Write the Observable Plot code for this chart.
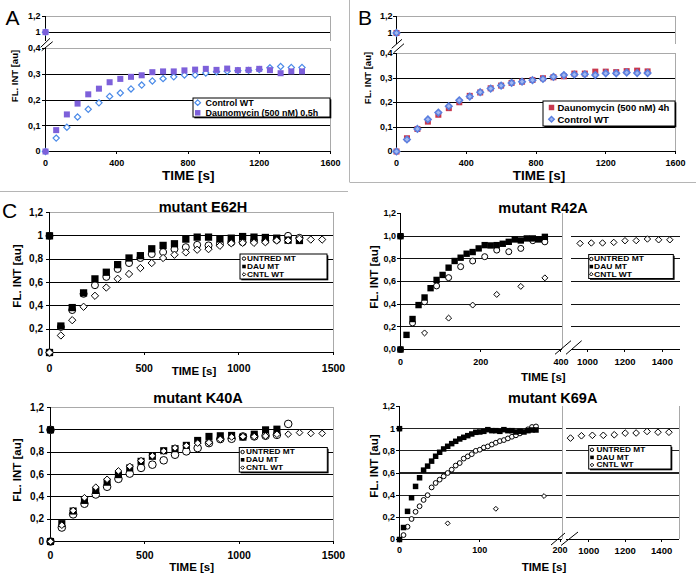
<!DOCTYPE html>
<html><head><meta charset="utf-8">
<script src="https://cdn.jsdelivr.net/npm/d3@7"></script>
<script src="https://cdn.jsdelivr.net/npm/@observablehq/plot@0.6"></script>
<style>
html,body{margin:0;padding:0;background:#fff}
#root{position:relative;width:696px;height:583px;overflow:hidden;background:#fff}
#root svg{position:absolute}
</style></head><body><div id="root"></div>
<script>
// ---------------- DATA ----------------
const tPre60 = [0,0,60,120,180,240,300,360,420,480,540,600,660,720,780,840,900,960,1020,1080,1140,1200,1260,1320,1380,1440];
const t60 = [0,60,120,180,240,300,360,420,480,540,600,660,720,780,840,900,960,1020,1080,1140,1200,1260,1320,1380,1440];
const tPre15 = [0,0,15,30,45,60,75,90,105,120,135,150,165,180,195,210,225,240,255,270,285,300,315,330,345,360];
const tPre30 = [0,0,30,60,90,120,150,180,210,240,270,300,330,360];
const tPre5 = [0,0,5,10,15,20,25,30,35,40,45,50,55,60,65,70,75,80,85,90,95,100,105,110,115,120,125,130,135,140,145,150,155,160,165,170];

// Panel A
const aControlWT = [1,0,0.052,0.094,0.134,0.164,0.189,0.214,0.227,0.243,0.258,0.274,0.283,0.290,0.297,0.297,0.305,0.310,0.312,0.314,0.315,0.318,0.325,0.330,0.326,0.326];
const aDauno05h = [1,0,0.083,0.144,0.186,0.222,0.244,0.269,0.282,0.290,0.296,0.308,0.311,0.311,0.315,0.318,0.321,0.317,0.322,0.316,0.317,0.321,0.316,0.304,0.311,0.311];
// Panel B
const bDauno4h = [1,0,0.054,0.092,0.122,0.150,0.177,0.201,0.227,0.241,0.258,0.269,0.280,0.285,0.292,0.299,0.303,0.307,0.318,0.318,0.326,0.326,0.324,0.328,0.330,0.327];
const bControlWT = [1,0,0.049,0.092,0.131,0.159,0.185,0.209,0.224,0.242,0.257,0.269,0.280,0.285,0.291,0.296,0.305,0.312,0.314,0.315,0.312,0.319,0.319,0.322,0.320,0.320];
// Panel C: control wild type (shared)
const cntlWT = [0,0.146,0.277,0.392,0.486,0.557,0.632,0.673,0.724,0.767,0.810,0.838,0.858,0.881,0.886,0.915,0.936,0.940,0.940,0.945,0.960,0.961,0.975,0.968,0.968];
// E62H
const e62Untred = [1,0,0.219,0.364,0.503,0.577,0.648,0.716,0.767,0.810,0.844,0.861,0.886,0.903,0.923,0.918,0.932,0.943,0.946,0.957,0.957,0.966,1.0,0.983];
const e62Dau = [1,0,0.227,0.385,0.511,0.631,0.688,0.753,0.810,0.830,0.889,0.918,0.932,0.972,0.989,0.989,0.974,0.980,0.994,0.989,0.986,0.980,0.963,0.960];
// K40A
const k40Untred = [1,0,0.125,0.243,0.338,0.421,0.490,0.561,0.608,0.659,0.688,0.727,0.777,0.807,0.837,0.881,0.917,0.920,0.941,0.941,0.947,0.955,1.053];
const k40Dau = [1,0,0.160,0.273,0.368,0.457,0.531,0.599,0.659,0.718,0.763,0.813,0.831,0.861,0.905,0.941,0.947,0.950,0.935,0.961,1.0,1.006];
// R42A
const r42Dau = [1,0,0.129,0.269,0.392,0.459,0.541,0.614,0.658,0.722,0.781,0.810,0.845,0.860,0.892,0.921,0.918,0.921,0.933,0.950,0.971,0.962,0.980,0.980,0.971,0.994];
const r42Untred = [1,0,0.234,0.421,0.561,0.634,0.731,0.781,0.819,0.877,0.863,0.892,0.96,0.950];
// K69A
const k69Dau = [1,0,0.108,0.254,0.377,0.479,0.557,0.626,0.662,0.707,0.751,0.787,0.817,0.841,0.865,0.886,0.907,0.922,0.937,0.952,0.967,0.970,0.976,0.991,0.982,0.982,0.976,0.991,0.982,0.982,0.970,0.976,0.970,0.982,0.988,0.988];
const k69Untred = [1,0,0.04,0.115,0.185,0.25,0.30,0.357,0.40,0.47,0.51,0.54,0.57,0.60,0.63,0.667,0.69,0.73,0.75,0.77,0.80,0.81,0.83,0.84,0.857,0.873,0.888,0.897,0.912,0.927,0.94,0.957,0.979,0.994,1.015,1.02];

// ticks & labels
const ticksABx = [0,400,800,1200,1600];
const ticksABTop = [1,1.2];
const ticksABBot = [0,0.1,0.2,0.3,0.4];
const gridABBot = [0.1,0.2,0.3];
const ticksCx = [0,500,1000,1500];
const ticksCy = [0,0.2,0.4,0.6,0.8,1,1.2];
const gridC = [0.2,0.4,0.6,0.8,1];
const ticksR42x = [0,200,400];
const ticksK69x = [0,100,200];
const ticksRightX = [1000,1200,1400];
const legendA = ["Control WT","Daunomycin (500 nM) 0,5h"];
const legendB = ["Daunomycin (500 nM) 4h","Control WT"];
const legendC = ["UNTRED MT","DAU MT","CNTL WT"];
const titlesC = ["mutant E62H","mutant R42A","mutant K40A","mutant K69A"];
const panelLetters = ["A","B","C"];
const xTitle = "TIME [s]";
const yTitle = "FL. INT [au]";

// ---------------- HELPERS ----------------
const FONT = "'Liberation Sans', Arial, sans-serif";
const root = document.getElementById("root");
const rows = (ts, vs) => vs.map((v, i) => ({t: ts[i], v}));
const plain = d => String(d);
const comma = d => String(d).replace(".", ",");
const comma1 = d => d3.format(".1f")(d).replace(".", ",");
const GRAY = "#a9a9a9";
const R = Math.round;
const crisp = {shapeRendering: "crispEdges"};

function part(o) {
  const mL = 45, mR = 15, mT = 15, mB = 35;
  const x0 = R(o.x0), x1 = R(o.x1), y0 = R(o.y0), y1 = R(o.y1);
  const w = x1 - x0, h = y1 - y0;
  const svg = Plot.plot({
    width: w + mL + mR, height: h + mT + mB,
    marginLeft: mL, marginRight: mR, marginTop: mT, marginBottom: mB,
    x: {domain: o.xd, axis: o.xAxis ? undefined : null},
    y: {domain: o.yd, axis: o.yAxis ? undefined : null},
    style: {fontFamily: FONT, fontSize: o.fs + "px", fontWeight: "bold", color: "#000", background: "none", overflow: "visible"},
    marks: [
      ...(o.grid ? [Plot.ruleY(o.grid, {stroke: o.gridColor || "#000", strokeWidth: o.gridWidth || 1, ...crisp})] : []),
      ...(o.grayTop ? [Plot.ruleY([o.yd[1]], {stroke: GRAY, ...crisp})] : []),
      ...(o.grayRight ? [Plot.ruleX([o.xd[1]], {stroke: GRAY, ...crisp})] : []),
      ...(o.axisLeft ? [Plot.ruleX([o.xd[0]], {stroke: "#000", ...crisp})] : []),
      ...(o.axisBottom ? [Plot.ruleY([o.yd[0]], {stroke: "#000", ...crisp})] : []),
      ...(o.xAxis ? [Plot.axisX(o.xAxis.ticks, {tickFormat: o.xAxis.format || plain, tickSize: 3, tickPadding: o.xAxis.pad, label: null, fontSize: o.xAxis.fs || o.fs, ...crisp})] : []),
      ...(o.yAxis ? [Plot.axisY(o.yAxis.ticks, {tickFormat: o.yAxis.format, tickSize: 3, tickPadding: o.yAxis.pad, label: null, fontSize: o.yAxis.fs || o.fs, ...crisp})] : []),
      ...o.marks
    ]
  });
  svg.style.left = (x0 - mL) + "px";
  svg.style.top = (y0 - mT) + "px";
  root.appendChild(svg);
}
const dots = (data, s) => Plot.dot(data, {x: "t", y: "v", ...s});

// styles
const sActrl = {symbol: "diamond2", r: 2.8, stroke: "#4a8ae8", strokeWidth: 1.2, fill: "#fff"};
const sAdau = {symbol: "square", r: 3.4, fill: "#7d60da"};
const sBdau = {symbol: "square", r: 3.4, fill: "#c8384e"};
const sBctrl = {symbol: "diamond2", r: 2.9, stroke: "#5a7fe0", strokeWidth: 1.6, fill: "#a4b8f0"};
const sU = {symbol: "circle", r: 3.5, stroke: "#000", strokeWidth: 1, fill: "#fff"};
const sD = {symbol: "square", r: 4.1, fill: "#000"};
const sC = {symbol: "diamond2", r: 3.3, stroke: "#000", strokeWidth: 1, fill: "#fff"};

// ---------------- PANEL A ----------------
const A_ctrl = rows(tPre60, aControlWT), A_dau = rows(tPre60, aDauno05h);
part({x0: 45, x1: 330, y0: 16, y1: 41, xd: [0, 1600], yd: [0.88, 1.2], fs: 9,
  grid: [1], grayTop: true, grayRight: true, axisLeft: true,
  yAxis: {ticks: ticksABTop, format: comma, pad: 2},
  marks: [dots(A_ctrl.filter(d => d.v > 0.5), sActrl), dots(A_dau.filter(d => d.v > 0.5), sAdau)]});
part({x0: 45, x1: 330, y0: 48.3, y1: 151, xd: [0, 1600], yd: [0, 0.4], fs: 9,
  grid: gridABBot, grayTop: true, grayRight: true, axisLeft: true, axisBottom: true,
  xAxis: {ticks: ticksABx, pad: 5}, yAxis: {ticks: ticksABBot, format: comma, pad: 2},
  marks: [dots(A_ctrl.filter(d => d.v < 0.5), sActrl), dots(A_dau.filter(d => d.v < 0.5), sAdau)]});

// ---------------- PANEL B ----------------
const B_dau = rows(tPre60, bDauno4h), B_ctrl = rows(tPre60, bControlWT);
part({x0: 396, x1: 675, y0: 16, y1: 44, xd: [0, 1600], yd: [0.86, 1.2], fs: 9,
  grid: [1], grayTop: true, grayRight: true, axisLeft: true,
  yAxis: {ticks: ticksABTop, format: comma, pad: 1},
  marks: [dots(B_dau.filter(d => d.v > 0.5), sBdau), dots(B_ctrl.filter(d => d.v > 0.5), sBctrl)]});
part({x0: 396, x1: 675, y0: 52.7, y1: 151, xd: [0, 1600], yd: [0, 0.4], fs: 9,
  grid: gridABBot, grayTop: true, grayRight: true, axisLeft: true, axisBottom: true,
  xAxis: {ticks: ticksABx, pad: 5.5}, yAxis: {ticks: ticksABBot, format: comma, pad: 1},
  marks: [dots(B_dau.filter(d => d.v < 0.5), sBdau), dots(B_ctrl.filter(d => d.v < 0.5), sBctrl)]});

// ---------------- PANEL C ----------------
const cntl = rows(t60, cntlWT);
// E62H
part({x0: 49, x1: 333.3, y0: 211.7, y1: 351.7, xd: [0, 1500], yd: [0, 1.2], fs: 10,
  grid: gridC, grayTop: true, grayRight: true, axisLeft: true, axisBottom: true,
  xAxis: {ticks: ticksCx, pad: 9, fs: 10.5}, yAxis: {ticks: ticksCy, format: comma, pad: 3.5},
  marks: [dots(rows(tPre60, e62Untred), sU), dots(rows(tPre60, e62Dau), sD), dots(cntl, sC)]});
// K40A
part({x0: 50, x1: 333.3, y0: 406.7, y1: 540.7, xd: [0, 1500], yd: [0, 1.2], fs: 10,
  grid: gridC, grayTop: true, grayRight: true, axisLeft: true, axisBottom: true,
  xAxis: {ticks: ticksCx, pad: 7, fs: 10.5}, yAxis: {ticks: ticksCy, format: comma, pad: 3.5},
  marks: [dots(rows(tPre60, k40Untred), {...sU, r: 3.8}), dots(rows(tPre60, k40Dau), {...sD, r: 4}), dots(cntl, {...sC, r: 3})]});
// R42A left
part({x0: 400.3, x1: 562, xd: [0, 404], y0: 213.3, y1: 349, yd: [0, 1.2], fs: 9,
  grid: gridC, gridColor: "#111", gridWidth: 1.3, grayRight: true, axisLeft: true, axisBottom: true,
  xAxis: {ticks: ticksR42x, pad: 6}, yAxis: {ticks: ticksCy, format: comma1, pad: 1.5},
  marks: [dots(rows(tPre30, r42Untred), {...sU, r: 3}), dots(cntl.filter(d => d.t > 0 && d.t <= 404), {...sC, r: 2.7}), dots(rows(tPre15, r42Dau), {...sD, r: 3.6})]});
// R42A right
part({x0: 570.7, x1: 680, xd: [914, 1497], y0: 213.3, y1: 349, yd: [0, 1.2], fs: 9.5,
  grid: gridC, gridColor: "#111", gridWidth: 1.3, axisBottom: true,
  xAxis: {ticks: ticksRightX, pad: 6},
  marks: [dots(cntl.filter(d => d.t >= 914), {...sC, r: 2.9, clip: true})]});
// K69A left
part({x0: 399.3, x1: 561.7, xd: [0, 203], y0: 405.7, y1: 538.7, yd: [0, 1.2], fs: 9,
  grid: gridC, gridColor: "#222", gridWidth: 1.3, grayRight: true, axisLeft: true, axisBottom: true,
  xAxis: {ticks: ticksK69x, pad: 4.5}, yAxis: {ticks: ticksCy, format: comma, pad: 1.5},
  marks: [dots(rows(tPre5, k69Untred), {...sU, r: 2.4}), dots(cntl.filter(d => d.t > 0 && d.t <= 203), {...sC, r: 2.2}), dots(rows(tPre5, k69Dau), {...sD, r: 3.1})]});
// K69A right
part({x0: 566, x1: 679.3, xd: [878, 1498], y0: 405.7, y1: 538.7, yd: [0, 1.2], fs: 9.5,
  grid: gridC, gridColor: "#222", gridWidth: 1.3, grayRight: true, axisBottom: true,
  xAxis: {ticks: ticksRightX, pad: 4.5},
  marks: [dots(cntl.filter(d => d.t >= 860), {...sC, r: 3, clip: true})]});

// ---------------- OVERLAY (labels, legends, breaks, borders) ----------------
const ov = d3.select(root).append("svg").attr("width", 696).attr("height", 583)
  .style("left", "0px").style("top", "0px").style("pointer-events", "none")
  .attr("font-family", FONT);

// panel borders
[[0, 191.5, 348, 191.5], [349.5, 0, 349.5, 182], [349.5, 182.5, 696, 182.5]].forEach(([a, b, c, d]) =>
  ov.append("line").attr("x1", a).attr("y1", b).attr("x2", c).attr("y2", d).attr("stroke", "#b5b5b5").attr("stroke-width", 1));

function txt(s, cx, cy, fs, opt = {}) {
  const t = ov.append("text").attr("font-size", fs).attr("font-weight", opt.normal ? "normal" : "bold")
    .attr("text-anchor", opt.anchor || "middle").attr("fill", "#000").text(s);
  if (opt.rotate) t.attr("transform", `translate(${cx},${cy}) rotate(-90)`).attr("x", 0).attr("y", 0.358 * fs);
  else if (opt.sx) t.attr("transform", `translate(${cx},${cy + 0.358 * fs}) scale(${opt.sx},1)`).attr("x", 0).attr("y", 0);
  else t.attr("x", cx).attr("y", cy + 0.358 * fs);
  return t;
}

// panel letters
txt(panelLetters[0], 12.5, 17.5, 21, {normal: true});
txt(panelLetters[1], 365, 17.5, 21, {normal: true});
txt(panelLetters[2], 9.5, 210.5, 21, {normal: true});

// titles
txt(titlesC[0], 203, 207, 14.5);
txt(titlesC[1], 543, 208, 14.5);
txt(titlesC[2], 198, 398, 14.5);
txt(titlesC[3], 552.7, 398, 14.5);

// x titles
txt(xTitle, 188.3, 175, 13.5);
txt(xTitle, 539, 175.5, 13.5);
txt(xTitle, 194, 371, 11.5);
txt(xTitle, 543.3, 377, 11.5);
txt(xTitle, 191.7, 567, 11.5);
txt(xTitle, 544, 567, 11.5);

// y titles
txt(yTitle, 15, 76, 9.5, {rotate: true});
txt(yTitle, 367.7, 78, 9.5, {rotate: true});
txt(yTitle, 17, 276, 11.5, {rotate: true});
txt(yTitle, 17, 470, 11.5, {rotate: true});
txt(yTitle, 374.3, 277, 11.5, {rotate: true});
txt(yTitle, 374.3, 466, 11.5, {rotate: true});

// break marks
function brk(pairs) {
  pairs.forEach(([a, b, c, d]) => ov.append("line").attr("x1", a).attr("y1", b).attr("x2", c).attr("y2", d).attr("stroke", "#000").attr("stroke-width", 1));
}
ov.append("rect").attr("x", 42).attr("y", 41.5).attr("width", 7).attr("height", 6.5).attr("fill", "#fff");
brk([[40.7, 47.3, 50, 38.3], [41.7, 50.7, 52.7, 41.7]]);
ov.append("rect").attr("x", 393).attr("y", 44.5).attr("width", 7).attr("height", 7.5).attr("fill", "#fff");
brk([[391.7, 48.3, 402, 39.3], [393.7, 52.7, 404, 43.7]]);
brk([[555, 354.3, 571, 340.7], [566, 354.3, 581.7, 340.7]]);
brk([[551, 545, 565, 533], [561, 545.5, 578, 532]]);

// legends
function symbolPath(kind, size) {
  const type = kind === "square" ? d3.symbolSquare : kind === "circle" ? d3.symbolCircle : d3.symbolDiamond2;
  return d3.symbol(type, size)();
}
function legend(box, items, opts) {
  ov.append("rect").attr("x", box[0] + 1.3).attr("y", box[1] + 1.3).attr("width", box[2] - box[0]).attr("height", box[3] - box[1]).attr("fill", "#000");
  ov.append("rect").attr("x", box[0]).attr("y", box[1]).attr("width", box[2] - box[0]).attr("height", box[3] - box[1]).attr("fill", "#fff").attr("stroke", "#000").attr("stroke-width", 1);
  items.forEach((it, i) => {
    const y = opts.rows[i];
    ov.append("path").attr("d", symbolPath(it.kind, it.size)).attr("transform", `translate(${opts.mx},${y})`)
      .attr("fill", it.fill).attr("stroke", it.stroke || "none").attr("stroke-width", it.sw || 1);
    txt(it.label, opts.tx, y, opts.fs, {anchor: "start", sx: opts.sx});
  });
}
legend([193, 98, 330, 117], [
  {label: legendA[0], kind: "diamond", size: 20, fill: "#fff", stroke: "#4a8ae8", sw: 1.2},
  {label: legendA[1], kind: "square", size: 30, fill: "#7d60da"}
], {rows: [102.7, 112.8], mx: 197.7, tx: 205.5, fs: 8.6, sx: 1.04});
legend([543, 101, 675, 126], [
  {label: legendB[0], kind: "square", size: 30, fill: "#c8384e"},
  {label: legendB[1], kind: "diamond", size: 20, fill: "#a4b8f0", stroke: "#5a7fe0", sw: 1.4}
], {rows: [107.5, 119.3], mx: 551.5, tx: 557.5, fs: 9.5});
const itemsC = [
  {label: legendC[0], kind: "circle", size: 9, fill: "#fff", stroke: "#000", sw: 1},
  {label: legendC[1], kind: "square", size: 13, fill: "#000"},
  {label: legendC[2], kind: "diamond", size: 8, fill: "#fff", stroke: "#000", sw: 1}
];
legend([240, 254, 327, 279], itemsC, {rows: [258.6, 266.5, 274.4], mx: 244, tx: 247, fs: 6.8, sx: 1.22});
legend([588.7, 254.5, 673.3, 278.5], itemsC, {rows: [259, 266.6, 274.2], mx: 591.3, tx: 594, fs: 6.8, sx: 1.25});
legend([239.3, 447.5, 327.3, 472], itemsC, {rows: [452, 459.8, 467.6], mx: 242.6, tx: 246, fs: 6.8, sx: 1.22});
legend([588.7, 445.5, 671, 469], itemsC, {rows: [449.8, 457.4, 465], mx: 592, tx: 596.5, fs: 6.8, sx: 1.22});
</script></body></html>
